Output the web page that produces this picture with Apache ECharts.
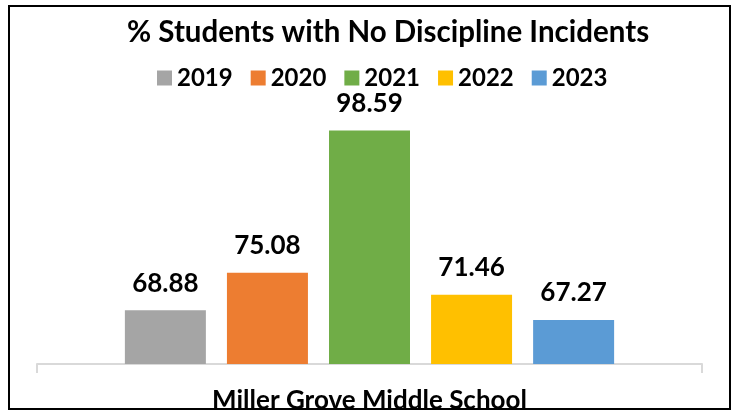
<!DOCTYPE html>
<html><head><meta charset="utf-8">
<script src="https://cdn.jsdelivr.net/npm/echarts@6/dist/echarts.min.js"></script>
<style>html,body{margin:0;padding:0;background:#fff}#c{width:738px;height:415px}</style>
</head><body><div id="c"></div>
<script>
const categories = ['Miller Grove Middle School'];
const years = ['2019', '2020', '2021', '2022', '2023'];
const values = [68.88, 75.08, 98.59, 71.46, 67.27];
const colors = ['#A5A5A5', '#ED7D31', '#70AD47', '#FFC000', '#5B9BD5'];
const FONT = 'Lato';
const chart = echarts.init(document.getElementById('c'));
chart.setOption({
  backgroundColor: '#fff',
  animation: false,
  title: {
    text: '% Students with No Discipline Incidents',
    left: 127, top: 17, padding: 0,
    textStyle: { fontFamily: FONT, fontWeight: 'bold', fontSize: 29.5, color: '#000' }
  },
  legend: {
    data: years, top: 66, left: 157, padding: 0,
    itemWidth: 15, itemHeight: 15, itemGap: 18, icon: 'rect',
    textStyle: { fontFamily: FONT, fontWeight: 'bold', fontSize: 24, color: '#000' }
  },
  graphic: [{
    type: 'rect', shape: { x: 9, y: 6, width: 721, height: 403 },
    style: { fill: 'none', stroke: '#000', lineWidth: 2 }, silent: true, z: 100
  }],
  grid: { left: 37, right: 36, top: 122, bottom: 51 },
  xAxis: {
    type: 'category', data: categories,
    axisLine: { lineStyle: { color: '#d9d9d9', width: 2 } },
    axisTick: { show: true, length: 9, lineStyle: { color: '#d9d9d9', width: 2 } },
    axisLabel: { margin: 24, fontFamily: FONT, fontWeight: 'bold', fontSize: 26, color: '#000' }
  },
  yAxis: { type: 'value', min: 60, max: 100, show: false },
  series: years.map((y, i) => ({
    name: y, type: 'bar', data: [values[i]],
    barWidth: 81, barGap: '26%',
    itemStyle: { color: colors[i] },
    label: {
      show: true, position: 'top', distance: 14,
      formatter: p => p.value.toFixed(2),
      fontFamily: FONT, fontWeight: 'bold', fontSize: 26, color: '#000'
    }
  }))
});
</script></body></html>
